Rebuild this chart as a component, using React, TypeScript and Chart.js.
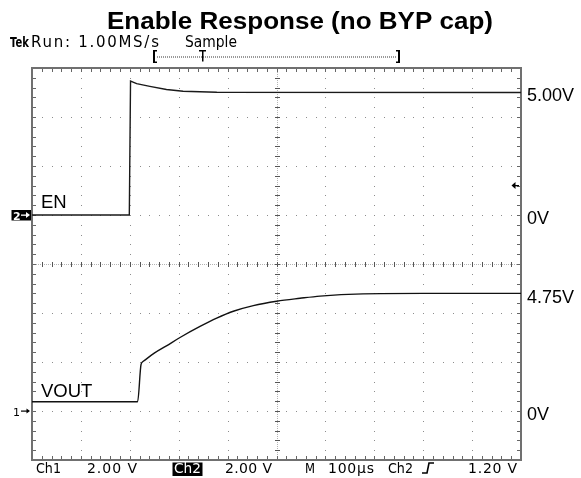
import React, { useEffect, useRef } from "react";
import { Chart, registerables } from "chart.js";

Chart.register(...registerables);

// ---- data ----
const TITLE = "Enable Response (no BYP cap)";
const EN_TIME_US = [0, 199, 201.5, 214, 241, 275, 309, 378, 1000];
const EN_VOLTS = [0, 0, 5.47, 5.36, 5.25, 5.12, 5.05, 5.01, 5.0];
const VOUT_TIME_US = [0, 216, 223, 227.6, 250, 275, 302.7, 343.6, 377.7, 411.7, 452.6, 500.4, 548, 589, 677, 800, 1000];
const VOUT_VOLTS = [0.38, 0.38, 1.9, 2.03, 2.36, 2.66, 3.0, 3.45, 3.79, 4.07, 4.3, 4.48, 4.6, 4.69, 4.78, 4.8, 4.8];
const EN_MARKERS = [5.0, 0];
const VOUT_MARKERS = [4.75, 0];
const TRIGGER_LEVEL = 1.2;
const TIME_PER_DIV = 100;
const DIVS_X = 10;
const DIVS_Y = 8;
const VOLTS_PER_DIV = 2;
const EN_GROUND_DIV = 1; // divisions above center
const VOUT_GROUND_DIV = -3;
const HEADER_LEFT = ["Tek", "Run: 1.00MS/s", "Sample"];
const FOOTER = ["Ch1", "2.00 V", "Ch2", "2.00 V", "M", "100\u00b5s", "Ch2", "1.20 V"];

const fmtMarker = (v: number) => (v === 0 ? "0V" : v.toFixed(2) + "V");

function fitText(
  ctx: CanvasRenderingContext2D,
  text: string,
  x: number,
  baseline: number,
  width: number,
  mode: "space" | "scale" = "space"
) {
  ctx.save();
  (ctx as any).letterSpacing = "0px";
  const w = ctx.measureText(text).width;
  const n = [...text].length;
  if (mode === "space" && w < width && n > 1) {
    (ctx as any).letterSpacing = ((width - w) / (n - 1)).toFixed(2) + "px";
    ctx.fillText(text, x, baseline);
  } else {
    ctx.translate(x, baseline);
    ctx.scale(width / w, 1);
    ctx.fillText(text, 0, 0);
  }
  ctx.restore();
}

const graticule = {
  id: "graticule",
  beforeDatasetsDraw(chart: any) {
    const { ctx, chartArea } = chart;
    const { left, top, right, bottom } = chartArea;
    const xs = chart.scales.x;
    const ys = chart.scales.yEN;
    const w = right - left;
    const h = bottom - top;
    const mx = w / (DIVS_X * 5);
    const my = h / (DIVS_Y * 5);
    ctx.save();
    ctx.fillStyle = "#8c8c8c";
    for (let i = 1; i < DIVS_X; i++) {
      if (i === DIVS_X / 2) continue;
      const x = Math.round(xs.getPixelForValue(i * TIME_PER_DIV));
      for (let k = 0; k <= DIVS_Y * 5; k++) {
        ctx.fillRect(x, Math.round(top + k * my), 1, 1);
      }
    }
    const yMin = ys.min;
    for (let j = 1; j < DIVS_Y; j++) {
      if (j === DIVS_Y / 2) continue;
      const y = Math.round(ys.getPixelForValue(yMin + j * VOLTS_PER_DIV));
      for (let k = 0; k <= DIVS_X * 5; k++) {
        ctx.fillRect(Math.round(left + k * mx), y, 1, 1);
      }
    }
    const cx = Math.round(xs.getPixelForValue((DIVS_X / 2) * TIME_PER_DIV));
    const cy = Math.round(ys.getPixelForValue(yMin + (DIVS_Y / 2) * VOLTS_PER_DIV));
    ctx.fillStyle = "#b4b4b4";
    for (let y = top; y < bottom; y += 2) ctx.fillRect(cx, Math.round(y), 1, 1);
    for (let x = left; x < right; x += 2) ctx.fillRect(Math.round(x), cy, 1, 1);
    ctx.fillStyle = "#555";
    for (let k = 0; k <= DIVS_Y * 5; k++) ctx.fillRect(cx - 2, Math.round(top + k * my), 5, 1);
    for (let k = 0; k <= DIVS_X * 5; k++) ctx.fillRect(Math.round(left + k * mx), cy - 2, 1, 5);
    ctx.fillStyle = "#666";
    for (let k = 1; k < DIVS_X * 5; k++) {
      const x = Math.round(left + k * mx);
      ctx.fillRect(x, top, 1, 4);
      ctx.fillRect(x, bottom - 4, 1, 4);
    }
    for (let k = 1; k < DIVS_Y * 5; k++) {
      const y = Math.round(top + k * my);
      ctx.fillRect(left, y, 4, 1);
      ctx.fillRect(right - 4, y, 4, 1);
    }
    ctx.strokeStyle = "#707070";
    ctx.lineWidth = 2;
    ctx.strokeRect(left, top, w, h);
    ctx.restore();
  },
};

const annotations = {
  id: "annotations",
  afterDraw(chart: any) {
    const { ctx, chartArea } = chart;
    const { left, right } = chartArea;
    const yEN = chart.scales.yEN;
    const yV = chart.scales.yV;
    ctx.save();
    ctx.fillStyle = "#000";
    ctx.textBaseline = "alphabetic";
    ctx.textAlign = "left";
    // title
    ctx.font = "bold 23px 'Liberation Sans', Arial, sans-serif";
    fitText(ctx, TITLE, 107, 28.5, 386, "scale");
    // header
    ctx.font = "bold 14px 'DejaVu Sans', sans-serif";
    fitText(ctx, HEADER_LEFT[0], 10, 46.7, 19, "scale");
    ctx.font = "15px 'DejaVu Sans', sans-serif";
    fitText(ctx, HEADER_LEFT[1], 31, 46.7, 128);
    fitText(ctx, HEADER_LEFT[2], 185, 46.7, 52);
    // record bracket
    ctx.fillStyle = "#000";
    ctx.fillRect(153, 50, 2, 13);
    ctx.fillRect(153, 50, 4, 1.5);
    ctx.fillRect(153, 61.5, 4, 1.5);
    ctx.fillRect(398, 50, 2, 13);
    ctx.fillRect(396, 50, 4, 1.5);
    ctx.fillRect(396, 61.5, 4, 1.5);
    ctx.fillStyle = "#999";
    for (let x = 157; x < 396; x += 2) ctx.fillRect(x, 56, 1, 2);
    ctx.fillStyle = "#000";
    ctx.fillRect(199, 50, 7, 1.5);
    ctx.fillRect(202, 50, 1.5, 11.5);

    // right side level labels
    ctx.font = "18px 'Liberation Sans', Arial, sans-serif";
    const lx = right + 6;
    EN_MARKERS.forEach((v) => ctx.fillText(fmtMarker(v), lx, yEN.getPixelForValue(v) + 8.5));
    VOUT_MARKERS.forEach((v) => ctx.fillText(fmtMarker(v), lx, yV.getPixelForValue(v) + 8.5));
    // channel names
    ctx.font = "18.5px 'Liberation Sans', Arial, sans-serif";
    ctx.fillText("EN", left + 9, yEN.getPixelForValue(0) - 7);
    ctx.fillText("VOUT", left + 9, yV.getPixelForValue(0) - 14.5);

    // channel ground markers
    const gEN = yEN.getPixelForValue(0);
    ctx.fillStyle = "#000";
    ctx.fillRect(11.5, gEN - 5, 19.5, 10.5);
    ctx.fillStyle = "#fff";
    ctx.font = "bold 11px 'DejaVu Sans', sans-serif";
    ctx.fillText("2", 13, gEN + 4.5);
    ctx.fillRect(21, gEN - 0.5, 7, 1.3);
    ctx.beginPath();
    ctx.moveTo(30, gEN);
    ctx.lineTo(26, gEN - 3);
    ctx.lineTo(26, gEN + 3);
    ctx.closePath();
    ctx.fill();
    const gV = yV.getPixelForValue(0);
    ctx.fillStyle = "#000";
    ctx.font = "11px 'DejaVu Sans', sans-serif";
    ctx.fillText("1", 13, gV + 4.5);
    ctx.fillRect(21, gV - 0.5, 6, 1.2);
    ctx.beginPath();
    ctx.moveTo(30, gV);
    ctx.lineTo(26.5, gV - 2.5);
    ctx.lineTo(26.5, gV + 2.5);
    ctx.closePath();
    ctx.fill();
    // trigger level marker
    const tY = yEN.getPixelForValue(TRIGGER_LEVEL);
    ctx.beginPath();
    ctx.moveTo(right - 9.5, tY);
    ctx.lineTo(right - 5.5, tY - 3.5);
    ctx.lineTo(right - 5.5, tY + 3.5);
    ctx.closePath();
    ctx.fill();
    ctx.fillRect(right - 6, tY - 0.6, 4, 1.3);

    // footer
    const fb = 473;
    ctx.font = "14px 'DejaVu Sans', sans-serif";
    fitText(ctx, FOOTER[0], 36, fb, 25);
    fitText(ctx, FOOTER[1], 87, fb, 50);
    ctx.fillRect(172.5, 462.5, 30, 13.5);
    ctx.fillStyle = "#fff";
    fitText(ctx, FOOTER[2], 174, fb, 27);
    ctx.fillStyle = "#000";
    fitText(ctx, FOOTER[3], 225, fb, 47);
    fitText(ctx, FOOTER[4], 305, fb, 10);
    fitText(ctx, FOOTER[5], 328, fb, 46);
    fitText(ctx, FOOTER[6], 388, fb, 25);
    ctx.strokeStyle = "#000";
    ctx.lineWidth = 1.6;
    ctx.beginPath();
    ctx.moveTo(422, fb);
    ctx.lineTo(427, fb);
    ctx.lineTo(429, fb - 10);
    ctx.lineTo(434, fb - 10);
    ctx.stroke();
    fitText(ctx, FOOTER[7], 468, fb, 49);
    ctx.restore();
  },
};

export default function App() {
  const ref = useRef<HTMLCanvasElement | null>(null);
  useEffect(() => {
    if (!ref.current) return;
    const enData = EN_TIME_US.map((t, i) => ({ x: t, y: EN_VOLTS[i] }));
    const voutData = VOUT_TIME_US.map((t, i) => ({ x: t, y: VOUT_VOLTS[i] }));
    const halfY = DIVS_Y / 2;
    const chart = new Chart(ref.current, {
      type: "line",
      data: {
        datasets: [
          {
            label: "EN",
            data: enData,
            yAxisID: "yEN",
            borderColor: "#1a1a1a",
            borderWidth: 1.4,
            pointRadius: 0,
            tension: 0,
          },
          {
            label: "VOUT",
            data: voutData,
            yAxisID: "yV",
            borderColor: "#111",
            borderWidth: 1.4,
            pointRadius: 0,
            cubicInterpolationMode: "monotone",
          },
        ],
      },
      options: {
        responsive: false,
        animation: false,
        devicePixelRatio: 1,
        layout: { padding: { left: 32, top: 68, right: 60, bottom: 18 } },
        plugins: { legend: { display: false }, tooltip: { enabled: false }, title: { display: false } },
        scales: {
          x: { type: "linear", min: 0, max: DIVS_X * TIME_PER_DIV, display: false },
          yEN: {
            type: "linear",
            position: "left",
            min: (-halfY - EN_GROUND_DIV) * VOLTS_PER_DIV,
            max: (halfY - EN_GROUND_DIV) * VOLTS_PER_DIV,
            display: false,
          },
          yV: {
            type: "linear",
            position: "right",
            min: (-halfY - VOUT_GROUND_DIV) * VOLTS_PER_DIV,
            max: (halfY - VOUT_GROUND_DIV) * VOLTS_PER_DIV,
            display: false,
          },
        },
      },
      plugins: [graticule, annotations],
    } as any);
    return () => chart.destroy();
  }, []);
  return (
    <div style={{ position: "absolute", left: 0, top: 0, width: 581, height: 478, background: "#fff" }}>
      <canvas ref={ref} width={581} height={478} style={{ display: "block" }} />
    </div>
  );
}
